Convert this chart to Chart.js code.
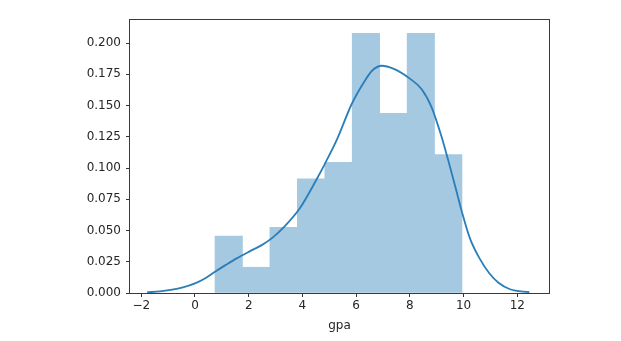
<!DOCTYPE html>
<html>
<head>
<meta charset="utf-8">
<script src="https://cdn.jsdelivr.net/npm/chart.js@4/dist/chart.umd.min.js"></script>
<style>
  html, body { margin: 0; padding: 0; background: #fff; }
  #wrap { width: 621px; height: 341px; }
</style>
</head>
<body>
<div id="wrap"><canvas id="c" width="621" height="341"></canvas></div>
<script>
// Histogram (density) bins: centers and heights
const binCenters = [1.256, 2.278, 3.299, 4.321, 5.343, 6.364, 7.386, 8.408, 9.429];
const binDensity = [0.0456, 0.0206, 0.0525, 0.0914, 0.1045, 0.2077, 0.1437, 0.2077, 0.1107];

// KDE curve points
const kdeX = [-1.78, -1.3, -0.9, -0.45, 0, 0.4, 0.745, 1.15, 1.55, 2.05, 2.5, 2.9, 3.3, 3.91, 4.53, 4.84, 5.3, 5.83, 6.33, 6.6, 6.95, 7.38, 8.0, 8.44, 8.81, 9.18, 9.43, 9.68, 9.93, 10.24, 10.6, 10.95, 11.3, 11.73, 12.45];
const kdeY = [0.0006, 0.0013, 0.0025, 0.0045, 0.0077, 0.0120, 0.0170, 0.0225, 0.0277, 0.0335, 0.0385, 0.0445, 0.0525, 0.0680, 0.0910, 0.1035, 0.1235, 0.1510, 0.1700, 0.1780, 0.1818, 0.1795, 0.1715, 0.1630, 0.1485, 0.1250, 0.1060, 0.0860, 0.0655, 0.0435, 0.0275, 0.0160, 0.0082, 0.0030, 0.0006];

// Ticks
const xTicks = [-2, 0, 2, 4, 6, 8, 10, 12];
const xTickLabels = ['\u22122', '0', '2', '4', '6', '8', '10', '12'];
const yTicks = [0, 0.025, 0.05, 0.075, 0.1, 0.125, 0.15, 0.175, 0.2];
const yTickLabels = ['0.000', '0.025', '0.050', '0.075', '0.100', '0.125', '0.150', '0.175', '0.200'];
const xTitle = 'gpa';

const FONT = { family: 'DejaVu Sans', size: 12 };
const TXT = '#262626';

const spines = {
  id: 'spines',
  afterDatasetsDraw(chart) {
    const a = chart.chartArea, ctx = chart.ctx;
    ctx.save();
    ctx.strokeStyle = '#3a3a3a';
    ctx.lineWidth = 1;
    const l = Math.round(a.left) - 0.5, t = Math.round(a.top) - 0.5;
    const r = Math.round(a.right) + 0.5, b = Math.round(a.bottom) + 0.5;
    ctx.strokeRect(l, t, r - l, b - t);
    ctx.restore();
  }
};

new Chart(document.getElementById('c'), {
  type: 'bar',
  data: {
    datasets: [
      {
        type: 'line',
        order: 0,
        data: kdeX.map((x, i) => ({ x: x, y: kdeY[i] })),
        borderColor: '#2a7db8',
        borderWidth: 1.8,
        pointRadius: 0,
        fill: false,
        cubicInterpolationMode: 'monotone'
      },
      {
        type: 'bar',
        order: 1,
        data: binCenters.map((x, i) => ({ x: x, y: binDensity[i] })),
        backgroundColor: '#a5c9e1',
        borderWidth: 0,
        barPercentage: 1.0,
        categoryPercentage: 1.0,
        grouped: false
      }
    ]
  },
  options: {
    responsive: false,
    animation: false,
    devicePixelRatio: 1,
    layout: { padding: { left: 0, top: 20, right: 72, bottom: 0 } },
    plugins: { legend: { display: false }, tooltip: { enabled: false } },
    scales: {
      x: {
        type: 'linear',
        min: -2.42,
        max: 13.18,
        offset: false,
        afterBuildTicks: (s) => { s.ticks = xTicks.map(v => ({ value: v })); },
        afterFit: (s) => { s.height = 48; },
        ticks: {
          autoSkip: false,
          maxRotation: 0,
          padding: 2,
          color: TXT,
          font: FONT,
          callback: (v) => { const i = xTicks.indexOf(v); return i >= 0 ? xTickLabels[i] : ''; }
        },
        grid: { display: true, drawOnChartArea: false, drawTicks: true, tickLength: 4, color: '#333', offset: false },
        border: { display: false },
        title: { display: true, text: xTitle, color: TXT, font: FONT, padding: { top: 0, bottom: 8 } }
      },
      y: {
        type: 'linear',
        min: 0,
        max: 0.2184,
        afterBuildTicks: (s) => { s.ticks = yTicks.map(v => ({ value: v })); },
        afterFit: (s) => { s.width = 130; },
        ticks: {
          autoSkip: false,
          padding: 5,
          color: TXT,
          font: FONT,
          callback: (v) => { const i = yTicks.findIndex(t => Math.abs(t - v) < 1e-9); return i >= 0 ? yTickLabels[i] : ''; }
        },
        grid: { display: true, drawOnChartArea: false, drawTicks: true, tickLength: 4, color: '#333' },
        border: { display: false }
      }
    }
  },
  plugins: [spines]
});
</script>
</body>
</html>
